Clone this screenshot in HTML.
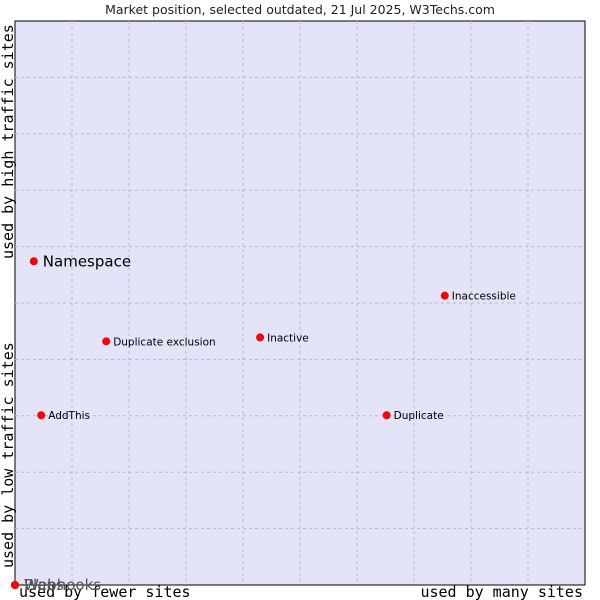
<!DOCTYPE html>
<html><head><meta charset="utf-8"><style>
body{margin:0;background:#fff;width:600px;height:600px;overflow:hidden}
svg{display:block}
</style></head><body>
<svg id="chart" width="600" height="600" font-family="'DejaVu Sans', 'Liberation Sans', sans-serif">
<text x="300" y="14" text-anchor="middle" font-size="12.5" fill="#222">Market position, selected outdated, 21 Jul 2025, W3Techs.com</text>
<rect x="15" y="21" width="570" height="564" fill="#e3e4f8" stroke="#000" stroke-width="1"/>
<g id="grid"></g>
<text x="19" y="597" font-family="'DejaVu Sans Mono','Liberation Mono',monospace" font-size="15" fill="#000">used by fewer sites</text>
<text x="583" y="597" text-anchor="end" font-family="'DejaVu Sans Mono','Liberation Mono',monospace" font-size="15" fill="#000">used by many sites</text>
<text transform="translate(13,568) rotate(-90)" font-family="'DejaVu Sans Mono','Liberation Mono',monospace" font-size="15" fill="#000">used by low traffic sites</text>
<text transform="translate(13,259) rotate(-90)" font-family="'DejaVu Sans Mono','Liberation Mono',monospace" font-size="15" fill="#000">used by high traffic sites</text>
<g id="points"></g>
</svg>
<script>
const names = ["Namespace","Duplicate exclusion","Inactive","Inaccessible","AddThis","Duplicate","Webhooks","Plans"];
const xVals = [0.033,0.16,0.43,0.754,0.046,0.652,0,0];
const yVals = [0.574,0.432,0.439,0.513,0.301,0.301,0,0];
const bigLabel = [true,false,false,false,false,false,true,true];
const L=15,T=21,W=570,H=564;
const xs=v=>L+v*W, ys=v=>T+H-v*H;
const NS="http://www.w3.org/2000/svg";
const grid=document.getElementById('grid');
for(let i=1;i<10;i++){
  const l=document.createElementNS(NS,'line');
  
  
  l.setAttribute('x1',xs(i/10));l.setAttribute('x2',xs(i/10));l.setAttribute('y1',T);l.setAttribute('y2',T+H);
  l.setAttribute('stroke','#bbb');l.setAttribute('stroke-dasharray','3,3');
  grid.appendChild(l);
  const h=document.createElementNS(NS,'line');
  
  
  h.setAttribute('y1',ys(i/10));h.setAttribute('y2',ys(i/10));h.setAttribute('x1',L);h.setAttribute('x2',L+W);
  h.setAttribute('stroke','#bbb');h.setAttribute('stroke-dasharray','3,3');
  grid.appendChild(h);
}
const pts=document.getElementById('points');
names.forEach((n,i)=>{
  const x=xs(xVals[i]),y=ys(yVals[i]);
  const c=document.createElementNS(NS,'circle');
  
  
  c.setAttribute('cx',x);c.setAttribute('cy',y);c.setAttribute('r',4);c.setAttribute('fill','#f00');
  pts.appendChild(c);
  const t=document.createElementNS(NS,'text');
  
  
  const atOrigin = xVals[i]===0 && yVals[i]===0;
  t.setAttribute('x',x+(bigLabel[i]?9:7));
  t.setAttribute('y',y+(bigLabel[i]?5:4));
  t.setAttribute('font-size',bigLabel[i]?15:10.5);
  t.setAttribute('fill',atOrigin?'#555':'#000');
  t.textContent=n;
  pts.appendChild(t);
});
</script>
</body></html>
